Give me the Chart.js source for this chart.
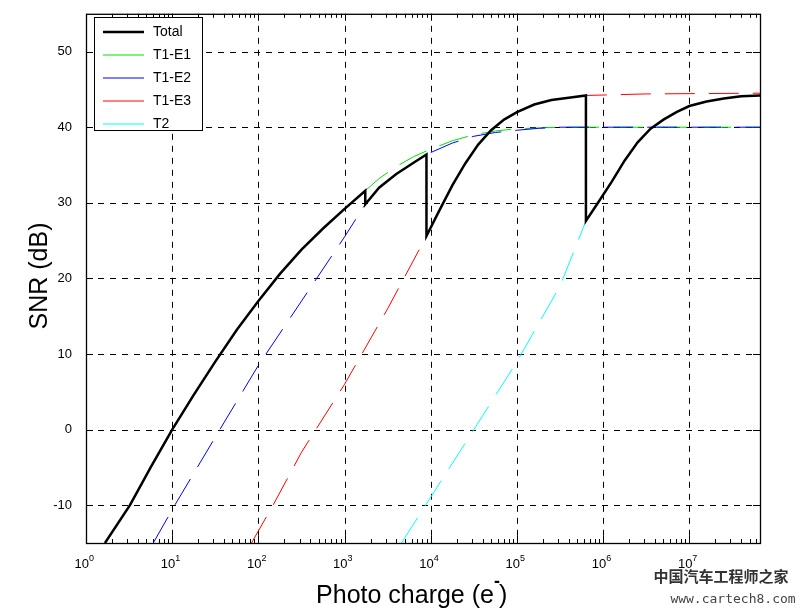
<!DOCTYPE html>
<html><head><meta charset="utf-8">
<script src="https://cdn.jsdelivr.net/npm/chart.js@4"></script>
<style>html,body{margin:0;padding:0;background:#fff}canvas{display:block}</style>
</head><body>
<canvas id="c" width="801" height="613"></canvas>
<script>
// log10(photo charge) and SNR (dB)
const totalLog = [0.22,0.51,0.75,1.0,1.25,1.5,1.75,2.0,2.25,2.5,2.75,3.0,3.24, 3.24,3.4,3.6,3.8,3.95, 3.95,4.1,4.25,4.4,4.55,4.7,4.85,5.0,5.2,5.4,5.6,5.8, 5.8,5.94,6.1,6.25,6.4,6.55,6.7,6.85,7.0,7.2,7.4,7.6,7.82];
const totalSNR = [-15,-10,-5,0,4.6,9,13.2,17,20.6,23.8,26.6,29.2,31.6, 29.8,32,33.8,35.3,36.4, 25.6,29,32.3,35.2,37.7,39.6,41,42,43,43.6,43.9,44.2, 27.6,30,32.8,35.6,38,39.8,41,42,42.8,43.4,43.8,44.1,44.2];
const e1Log = [0.22,0.51,0.75,1.0,1.25,1.5,1.75,2.0,2.25,2.5,2.75,3.0,3.24,3.4,3.6,3.8,4.0,4.25,4.5,4.75,5.0,5.25,5.5,6.0,7.82];
const e1SNR = [-15,-10,-5,0,4.6,9,13.2,17,20.6,23.8,26.6,29.2,31.6,33.2,34.8,36.1,37.1,38.2,39,39.5,39.8,39.9,40,40,40];
const e2Log = [0.78,1.03,1.5,2.0,2.5,3.0,3.24,3.4,3.6,3.8,3.95,4.25,4.5,4.75,5.0,5.25,5.5,6.0,7.82];
const e2SNR = [-15,-10,-1,8.5,17,25.5,29.8,32,33.8,35.3,36.4,37.9,38.8,39.3,39.6,39.85,40,40,40];
const e3Log = [1.92,2.17,2.5,3.0,3.5,3.95,4.1,4.25,4.4,4.55,4.7,4.85,5.0,5.2,5.4,5.6,5.8,6.5,7.82];
const e3SNR = [-15,-10,-3,6,16,25.6,29,32.3,35.2,37.7,39.6,41,42,43,43.6,43.9,44.2,44.4,44.5];
const t2Log = [3.66,3.94,4.5,5.0,5.5,5.8,5.94,6.1,6.25,6.4,6.55,6.7,6.85,7.0,7.2,7.4,7.6,7.82];
const t2SNR = [-15,-10,0,9,19,27.6,30,32.8,35.6,38,39.8,41,42,42.8,43.4,43.8,44.1,44.2];
const xTickPowers = [0,1,2,3,4,5,6,7];
const yTicks = [-10,0,10,20,30,40,50];
const seriesNames = ['Total','T1-E1','T1-E2','T1-E3','T2'];

const pts = (L,S)=>L.map((l,i)=>({x:Math.pow(10,l),y:S[i]}));
const dash=[30,14];
const ds = [
 {label:seriesNames[1],data:pts(e1Log,e1SNR),borderColor:'#00e000',borderWidth:1,borderDash:dash,order:4},
 {label:seriesNames[2],data:pts(e2Log,e2SNR),borderColor:'#0000ff',borderWidth:1,borderDash:dash,order:3},
 {label:seriesNames[3],data:pts(e3Log,e3SNR),borderColor:'#ff0000',borderWidth:1,borderDash:dash,order:2},
 {label:seriesNames[4],data:pts(t2Log,t2SNR),borderColor:'#00ffff',borderWidth:1,borderDash:dash,order:1},
 {label:seriesNames[0],data:pts(totalLog,totalSNR),borderColor:'#000',borderWidth:2.5,order:0},
];
ds.forEach(d=>{d.pointRadius=0;d.tension=0;d.fill=false;});
const legendColors={'Total':'#000','T1-E1':'#00e000','T1-E2':'#0000ff','T1-E3':'#ff0000','T2':'#00ffff'};

const deco={id:'deco',
 beforeDatasetsDraw(c){
  const {ctx,chartArea:a,scales:{x,y}}=c;
  ctx.save();ctx.strokeStyle='#000';ctx.lineWidth=1;ctx.setLineDash([6,6]);
  xTickPowers.forEach(p=>{const px=Math.round(x.getPixelForValue(Math.pow(10,p)))+0.5;if(px>a.left+1){ctx.beginPath();ctx.moveTo(px,a.top);ctx.lineTo(px,a.bottom);ctx.stroke();}});
  yTicks.forEach(v=>{const py=Math.round(y.getPixelForValue(v))+0.5;ctx.beginPath();ctx.moveTo(a.left,py);ctx.lineTo(a.right,py);ctx.stroke();});
  ctx.setLineDash([]);
  for(let p=0;p<8;p++)for(let m=2;m<=9;m++){const v=m*Math.pow(10,p);if(v>x.max)continue;const px=Math.round(x.getPixelForValue(v))+0.5;
   ctx.beginPath();ctx.moveTo(px,a.bottom);ctx.lineTo(px,a.bottom-4);ctx.moveTo(px,a.top);ctx.lineTo(px,a.top+4);ctx.stroke();}
  xTickPowers.forEach(p=>{const px=Math.round(x.getPixelForValue(Math.pow(10,p)))+0.5;ctx.beginPath();ctx.moveTo(px,a.bottom);ctx.lineTo(px,a.bottom-7);ctx.moveTo(px,a.top);ctx.lineTo(px,a.top+7);ctx.stroke();});
  yTicks.forEach(v=>{const py=Math.round(y.getPixelForValue(v))+0.5;ctx.beginPath();ctx.moveTo(a.left,py);ctx.lineTo(a.left+7,py);ctx.moveTo(a.right,py);ctx.lineTo(a.right-7,py);ctx.stroke();});
  ctx.restore();
 },
 afterDraw(c){
  const {ctx,chartArea:a,scales:{x}}=c;
  ctx.save();
  ctx.strokeStyle='#000';ctx.lineWidth=1.3;ctx.strokeRect(a.left+0.5,a.top+0.5,a.right-a.left,a.bottom-a.top);
  ctx.fillStyle='#000';ctx.textBaseline='alphabetic';
  xTickPowers.forEach(p=>{const px=x.getPixelForValue(Math.pow(10,p));
   ctx.font='13px "Liberation Sans"';ctx.textAlign='right';ctx.fillText('10',px+3,a.bottom+25);
   ctx.font='9px "Liberation Sans"';ctx.textAlign='left';ctx.fillText(String(p),px+3,a.bottom+18);});
  const lx=94,ly=17,lw=108,lh=113;
  ctx.fillStyle='#fff';ctx.fillRect(lx,ly,lw,lh);ctx.lineWidth=1;ctx.strokeStyle='#000';ctx.strokeRect(lx+0.5,ly+0.5,lw,lh);
  seriesNames.forEach((n,i)=>{const yy=ly+15+i*23;ctx.strokeStyle=legendColors[n];ctx.lineWidth=n==='Total'?2.5:1;
   ctx.beginPath();ctx.moveTo(lx+9,yy);ctx.lineTo(lx+50,yy);ctx.stroke();
   ctx.fillStyle='#000';ctx.font='14px "Liberation Sans"';ctx.textAlign='left';ctx.textBaseline='middle';ctx.fillText(n,lx+59,yy);});
  ctx.fillStyle='#000';ctx.textAlign='center';ctx.textBaseline='middle';ctx.font='25px "Liberation Sans"';
  ctx.fillText('Photo charge (e',405,596);
  const w=ctx.measureText('Photo charge (e').width;
  ctx.textAlign='left';ctx.fillText(')',405+w/2+5,596);ctx.font='bold 18px "Liberation Sans"';ctx.fillText('-',405+w/2,582);
  ctx.save();ctx.translate(40,276);ctx.rotate(-Math.PI/2);ctx.textAlign='center';ctx.font='25px "Liberation Sans"';ctx.fillText('SNR (dB)',0,0);ctx.restore();
  ctx.fillStyle='#333';ctx.textAlign='center';ctx.font='bold 15px "Noto Sans CJK SC"';ctx.fillText('中国汽车工程师之家',721,576);
  ctx.font='13px "DejaVu Sans Mono"';ctx.fillStyle='#444';ctx.fillText('www.cartech8.com',733,600);
  ctx.restore();
 }};

new Chart(document.getElementById('c'),{type:'line',data:{datasets:ds},
 plugins:[deco],
 options:{responsive:false,animation:false,
  layout:{padding:{left:0,right:41,top:10,bottom:0}},
  plugins:{legend:{display:false},tooltip:{enabled:false}},
  scales:{
   x:{type:'logarithmic',min:1,max:6.6e7,
      afterBuildTicks(s){s.ticks=xTickPowers.map(p=>({value:Math.pow(10,p)}));},
      afterFit(s){s.height=70;},
      ticks:{display:false},grid:{display:false},border:{display:false}},
   y:{min:-15,max:55,
      afterBuildTicks(s){s.ticks=yTicks.map(v=>({value:v}));},
      afterFit(s){s.width=86;},
      ticks:{color:'#000',font:{family:'Liberation Sans',size:13},padding:6},
      grid:{display:false},border:{display:false}}
  }}});
</script>
</body></html>
